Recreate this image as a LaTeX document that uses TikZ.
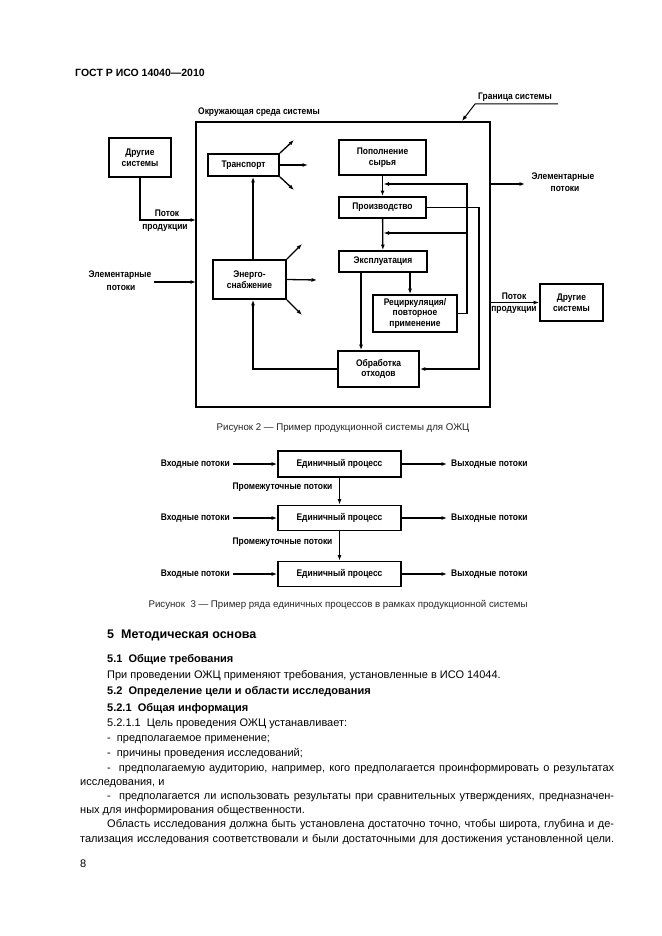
\documentclass[tikz,border=0pt]{standalone}
\usepackage{fontspec}
\setmainfont{Liberation Sans}
\newfontfamily\dgfont[FakeStretch=0.88]{Liberation Sans}
\usetikzlibrary{arrows.meta}
\tikzset{
  box/.style={draw, line width=1.8pt, inner sep=0pt, align=center, font=\dgfont\bfseries\fontsize{9.6}{10.8}\selectfont},
  lbl/.style={inner sep=0pt, align=center, font=\dgfont\bfseries\fontsize{9.6}{10.8}\selectfont},
  arr/.style={line width=1.3pt, -{Latex[length=5.5pt,width=4pt]}},
  body/.style={inner sep=0pt, anchor=base west, font=\fontsize{11}{13}\selectfont},
  head/.style={inner sep=0pt, anchor=base west, font=\bfseries\fontsize{11}{13}\selectfont},
  figcap/.style={inner sep=0pt, font=\fontsize{9.7}{11}\selectfont, text=black!85}
}
\begin{document}
\begin{tikzpicture}[x=1pt,y=-1pt]
\useasboundingbox[fill=white] (0,0) rectangle (661,936);

% header
\node[head, font=\bfseries\fontsize{10.5}{12}\selectfont] (hdr) at (75,77) {ГОСТ Р ИСО 14040—2010};

% ---------- Figure 2 ----------
\node[draw, line width=2.3pt, minimum width=294pt, minimum height=285pt, inner sep=0pt] (frame) at (343,264.5) {};
\node[lbl] (envlbl) at (259,112) {Окружающая среда системы};
\node[lbl, anchor=west] (bndlbl) at (478,97) {Граница системы};
\coordinate (bnd1) at (475,104);
\coordinate (bnd2) at (558,104);
\coordinate (bnd0) at (462,121);
\draw[arr, line width=1pt] (bnd2) -- (bnd1) -- (bnd0);

\node[box, minimum width=62pt, minimum height=39pt] (oth1) at (140,157.5) {Другие\\системы};
\node[box, minimum width=71pt, minimum height=22pt] (trans) at (243.5,165) {Транспорт};
\node[box, minimum width=73pt, minimum height=39pt] (energy) at (249.5,279.5) {Энерго-\\снабжение};
\node[box, minimum width=87pt, minimum height=35pt] (supply) at (382.5,157.5) {Пополнение\\сырья};
\node[box, minimum width=87pt, minimum height=21pt] (prod) at (382.5,207.5) {Производство};
\node[box, minimum width=88pt, minimum height=21pt] (expl) at (383,261.5) {Эксплуатация};
\node[box, minimum width=84pt, minimum height=37pt] (recyc) at (415,313.5) {Рециркуляция/\\повторное\\применение};
\node[box, minimum width=81pt, minimum height=36pt] (waste) at (378.5,369) {Обработка\\отходов};
\node[box, minimum width=63pt, minimum height=37pt] (oth2) at (571.5,302.5) {Другие\\системы};

% left inputs
\coordinate (pin1) at (196,220);
\draw[arr] (oth1.south) |- (pin1);
\node[lbl] (pp1) at (167,213.5) {Поток};
\node[lbl] (pp2) at (165,227.5) {продукции};
\coordinate (elL) at (154,282);
\coordinate (elLe) at (196,282);
\draw[arr] (elL) -- (elLe);
\node[lbl] (el1) at (120,275) {Элементарные};
\node[lbl] (el2) at (121,288) {потоки};

% transport arrows
\coordinate (t1) at (294,140);
\coordinate (t2) at (308,165);
\coordinate (t3) at (294,190);
\draw[arr] (trans.north east) -- (t1);
\draw[arr] (trans.east) -- (t2);
\draw[arr] (trans.south east) -- (t3);
% energy arrows
\coordinate (e1) at (302,244);
\coordinate (e2) at (317,280);
\coordinate (e3) at (302,315);
\draw[arr] (energy.north east) -- (e1);
\draw[arr] (energy.east) -- (e2);
\draw[arr] (energy.south east) -- (e3);

\draw[arr] ([xshift=3.5pt]energy.north) -- ([xshift=3.5pt]energy.north |- trans.south);
\draw[arr] (waste.west) -| ([xshift=3.5pt]energy.south);

\draw[arr] (supply) -- (prod);
\draw[arr] (prod) -- (expl);
\draw[arr] ([xshift=27pt]expl.south) -- ([xshift=27pt]expl.south |- recyc.north);
\draw[arr] ([xshift=-22pt]expl.south) -- ([xshift=-22pt]expl.south |- waste.north);

\coordinate (r1) at (467,184);
\coordinate (r1e) at (383.5,184);
\draw[arr] (recyc.east) -| (r1) -- (r1e);
\coordinate (r3) at (467,233);
\coordinate (r3e) at (383.5,233);
\draw[arr] (r3) -- (r3e);
\coordinate (r2) at (479,300);
\draw[arr] (prod.east) -| (r2) |- (waste.east);

% right outputs
\coordinate (elR) at (525,184);
\coordinate (elRs) at (490,184);
\draw[arr] (elRs) -- (elR);
\node[lbl] (er1) at (563,177) {Элементарные};
\node[lbl] (er2) at (565,189) {потоки};
\draw[arr] (oth2.west -| frame.east) -- (oth2.west);
\node[lbl] (pq1) at (514,296.5) {Поток};
\node[lbl] (pq2) at (514,310) {продукции};

\node[figcap] (cap2) at (343,428) {Рисунок 2 — Пример продукционной системы для ОЖЦ};

% ---------- Figure 3 ----------
\node[box, minimum width=123pt, minimum height=26pt] (p1) at (339.5,464) {Единичный процесс};
\node[box, minimum width=123pt, minimum height=25pt] (p2) at (339.5,518) {Единичный процесс};
\node[box, minimum width=123pt, minimum height=25pt] (p3) at (339.5,574) {Единичный процесс};
\foreach \p/\y in {p1/464, p2/518, p3/574}{
  \coordinate (in\p) at (233,\y);
  \coordinate (out\p) at (447,\y);
  \draw[arr] (in\p) -- (\p.west);
  \draw[arr] (\p.east) -- (out\p);
  \node[lbl, anchor=east] (inl\p) at (230,\y) {Входные потоки};
  \node[lbl, anchor=west] (outl\p) at (451,\y) {Выходные потоки};
}
\draw[arr] (p1) -- (p2);
\draw[arr] (p2) -- (p3);
\node[lbl] (mid1) at (282.5,487) {Промежуточные потоки};
\node[lbl] (mid2) at (282.5,542) {Промежуточные потоки};

\node[figcap] (cap3) at (338,605) {Рисунок \ 3 — Пример ряда единичных процессов в рамках продукционной системы};

% ---------- Text ----------
\node[head, font=\bfseries\fontsize{12.5}{14}\selectfont] (s5) at (107,638) {5\ \ Методическая основа};
\node[head] (s51) at (107,662) {5.1\ \ Общие требования};
\node[body] (t1l) at (107,678) {При проведении ОЖЦ применяют требования, установленные в ИСО 14044.};
\node[head] (s52) at (107,694) {5.2\ \ Определение цели и области исследования};
\node[head] (s521) at (107,711) {5.2.1\ \ Общая информация};
\node[body] (t2l) at (107,726) {5.2.1.1\ \ Цель проведения ОЖЦ устанавливает:};
\node[body] (t3l) at (107,741) {-\ \ предполагаемое применение;};
\node[body] (t4l) at (107,756) {-\ \ причины проведения исследований;};
\node[body] (t5l) at (107,771) {\makebox[507pt][s]{-\ \ предполагаемую аудиторию, например, кого предполагается проинформировать о результатах}};
\node[body] (t6l) at (80,785) {исследования, и};
\node[body] (t7l) at (107,799) {\makebox[507pt][s]{-\ \ предполагается ли использовать результаты при сравнительных утверждениях, предназначен-}};
\node[body] (t8l) at (80,813) {ных для информирования общественности.};
\node[body] (t9l) at (107,827) {\makebox[507pt][s]{Область исследования должна быть установлена достаточно точно, чтобы широта, глубина и де-}};
\node[body] (t10l) at (80,842) {\makebox[534pt][s]{тализация исследования соответствовали и были достаточными для достижения установленной цели.}};
\node[body] (pg) at (80,867) {8};
\end{tikzpicture}
\end{document}
